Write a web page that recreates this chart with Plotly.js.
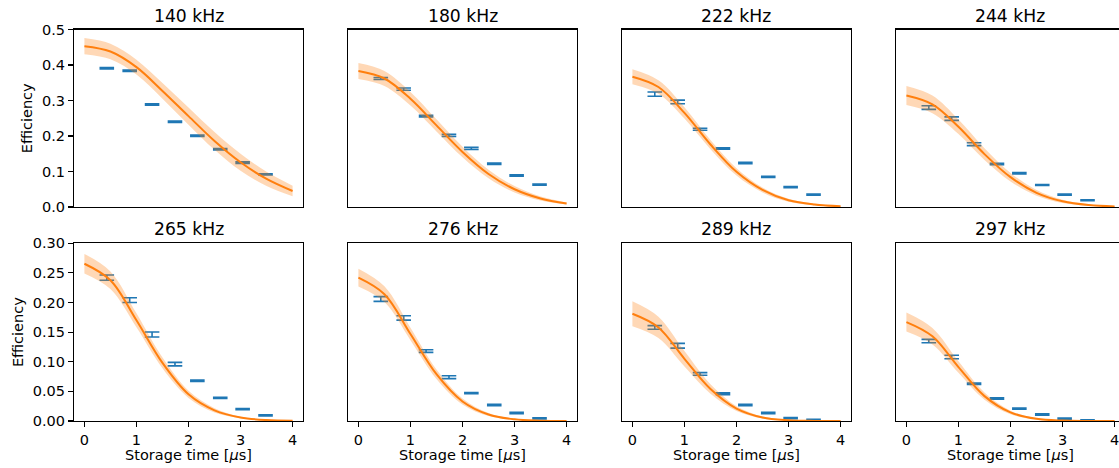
<!DOCTYPE html>
<html><head><meta charset="utf-8">
<script src="https://cdn.plot.ly/plotly-3.0.1.min.js"></script>
<style>html,body{margin:0;padding:0;overflow:hidden;background:#fff}</style>
</head><body><div id="chart" style="width:1126px;height:468px"></div>
<script>
const panelTitles = ['140 kHz','180 kHz','222 kHz','244 kHz','265 kHz','276 kHz','289 kHz','297 kHz'];
const storageTime = [0.43,0.87,1.30,1.74,2.17,2.61,3.04,3.48];
const fitTime = [0,0.5,1,1.5,2,2.5,3,3.5,4];

const eff140 = [0.391,0.384,0.289,0.240,0.201,0.163,0.125,0.092];
const eff180 = [0.362,0.332,0.256,0.202,0.165,0.122,0.089,0.063];
const eff222 = [0.318,0.296,0.219,0.165,0.124,0.085,0.056,0.035];
const eff244 = [0.280,0.249,0.177,0.121,0.095,0.062,0.035,0.019];
const eff265 = [0.242,0.204,0.146,0.096,0.068,0.039,0.020,0.0096];
const eff276 = [0.206,0.174,0.118,0.074,0.047,0.027,0.0135,0.0045];
const eff289 = [0.158,0.127,0.0795,0.046,0.027,0.0135,0.005,0.0017];
const eff297 = [0.135,0.108,0.063,0.038,0.021,0.011,0.004,0.0011];

const err140 = [0.002,0.002,0.002,0.002,0.002,0.002,0.002,0.0015];
const err180 = [0.003,0.003,0.002,0.003,0.003,0.002,0.002,0.0015];
const err222 = [0.006,0.005,0.003,0.002,0.002,0.0015,0.0015,0.0015];
const err244 = [0.005,0.005,0.004,0.002,0.002,0.0015,0.0015,0.0015];
const err265 = [0.0045,0.004,0.0042,0.003,0.0012,0.001,0.001,0.001];
const err276 = [0.004,0.0037,0.0022,0.0025,0.001,0.001,0.001,0.001];
const err289 = [0.003,0.004,0.0022,0.0015,0.001,0.001,0.001,0.001];
const err297 = [0.0028,0.003,0.0012,0.001,0.001,0.001,0.001,0.001];

const fit140 = [0.453,0.438,0.394,0.327,0.256,0.186,0.126,0.079,0.045];
const fit180 = [0.383,0.362,0.305,0.230,0.155,0.093,0.050,0.024,0.010];
const fit222 = [0.367,0.338,0.265,0.176,0.099,0.048,0.019,0.007,0.002];
const fit244 = [0.314,0.289,0.226,0.149,0.084,0.040,0.016,0.0055,0.0016];
const fit265 = [0.2655,0.2376,0.170,0.098,0.045,0.018,0.006,0.0015,0.0003];
const fit276 = [0.242,0.214,0.147,0.079,0.033,0.011,0.0028,0.0006,0.0001];
const fit289 = [0.181,0.158,0.105,0.054,0.021,0.006,0.0014,0.0002,0];
const fit297 = [0.167,0.143,0.091,0.042,0.0145,0.0037,0.0007,0.0001,0];

const band140 = [0.023,0.022,0.021,0.022,0.024,0.025,0.024,0.020,0.015];
const band180 = [0.0225,0.021,0.019,0.017,0.015,0.012,0.009,0.0055,0.003];
const band222 = [0.021,0.019,0.016,0.013,0.0105,0.007,0.004,0.002,0.001];
const band244 = [0.027,0.025,0.0205,0.0165,0.012,0.008,0.0045,0.002,0.001];
const band265 = [0.0166,0.0149,0.0117,0.009,0.006,0.0037,0.0013,0.0004,0.0001];
const band276 = [0.015,0.0133,0.0105,0.008,0.005,0.0025,0.0009,0.0003,0];
const band289 = [0.021,0.018,0.013,0.008,0.004,0.0017,0.0005,0.0001,0];
const band297 = [0.016,0.0138,0.0097,0.006,0.003,0.0011,0.0002,0,0];

const panels = [
  [eff140,err140,fit140,band140],[eff180,err180,fit180,band180],
  [eff222,err222,fit222,band222],[eff244,err244,fit244,band244],
  [eff265,err265,fit265,band265],[eff276,err276,fit276,band276],
  [eff289,err289,fit289,band289],[eff297,err297,fit297,band297]
];

const W = 1126, H = 468;
const colPx = [[74,303],[348,577],[622,851],[896,1125]];
const rowPx = [[29.5,207],[243.3,421]];
const FONT = 'DejaVu Sans, sans-serif';
const FS = 14.5, TFS = 17.2;
const traces = [];
const layout = {
  width: W, height: H, margin:{l:0,r:0,t:0,b:0},
  paper_bgcolor:'#fff', plot_bgcolor:'#fff', showlegend:false,
  font:{family:FONT, size:FS, color:'#000'}, annotations:[]
};

panels.forEach((p, i) => {
  const [eff, err, fit, band] = p;
  const r = Math.floor(i/4), c = i%4;
  const xa = 'x'+(i+1), ya = 'y'+(i+1);
  traces.push({x:storageTime, y:eff, xaxis:xa, yaxis:ya, type:'scatter', mode:'markers',
    marker:{size:1, opacity:0, color:'#1f77b4'},
    error_y:{type:'data', array:err, visible:true, color:'#1f77b4', thickness:1.6, width:7.3}, hoverinfo:'skip'});
  traces.push({x:fitTime, y:fit.map((v,k)=>v-band[k]), xaxis:xa, yaxis:ya, type:'scatter', mode:'lines',
    line:{width:0, shape:'spline', color:'rgba(0,0,0,0)'}, hoverinfo:'skip'});
  traces.push({x:fitTime, y:fit.map((v,k)=>v+band[k]), xaxis:xa, yaxis:ya, type:'scatter', mode:'lines',
    line:{width:0, shape:'spline', color:'rgba(0,0,0,0)'}, fill:'tonexty', fillcolor:'rgba(255,127,14,0.3)', hoverinfo:'skip'});
  traces.push({x:fitTime, y:fit, xaxis:xa, yaxis:ya, type:'scatter', mode:'lines',
    line:{width:2, shape:'spline', color:'#ff7f0e'}, hoverinfo:'skip'});

  const xd = [colPx[c][0]/W, colPx[c][1]/W];
  const yd = [(H-rowPx[r][1])/H, (H-rowPx[r][0])/H];
  const bottom = r === 1, left = c === 0;
  layout['xaxis'+(i+1)] = {
    domain:xd, anchor:ya, range:[-0.2,4.2], showgrid:false, zeroline:false,
    showline:true, mirror:true, linecolor:'#000', linewidth:1.1,
    ticks: bottom ? 'outside' : '', ticklen:5, tickwidth:1.1, tickcolor:'#000',
    showticklabels: bottom, dtick:1, tick0:0,
    tickfont:{family:FONT, size:FS, color:'#000'},
    title: bottom ? {text:'Storage time [<i>μ</i>s]', font:{family:FONT, size:FS, color:'#000'}, standoff:3} : {text:''}
  };
  layout['yaxis'+(i+1)] = {
    domain:yd, anchor:xa, range: r===0 ? [0,0.5] : [0,0.30], showgrid:false, zeroline:false,
    showline:true, mirror:true, linecolor:'#000', linewidth:1.1,
    ticks: left ? 'outside' : '', ticklen:5, tickwidth:1.1, tickcolor:'#000',
    showticklabels:left, dtick: r===0 ? 0.1 : 0.05, tick0:0,
    tickformat: r===0 ? '.1f' : '.2f',
    tickfont:{family:FONT, size:FS, color:'#000'},
    title: left ? {text:'Efficiency', font:{family:FONT, size:FS, color:'#000'}, standoff:5} : {text:''}
  };
  layout.annotations.push({text:panelTitles[i], xref:'paper', yref:'paper',
    x:(xd[0]+xd[1])/2, y:yd[1], xanchor:'center', yanchor:'bottom', yshift:2,
    showarrow:false, font:{family:FONT, size:TFS, color:'#000'}});
});

Plotly.newPlot('chart', traces, layout, {displayModeBar:false, staticPlot:true});
</script></body></html>
